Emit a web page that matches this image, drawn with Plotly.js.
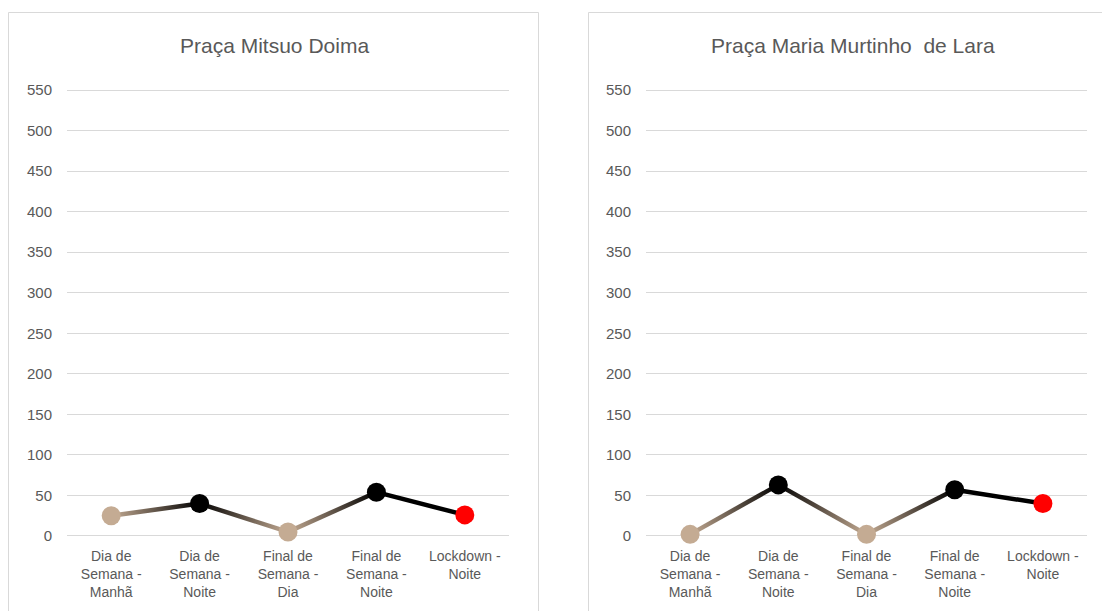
<!DOCTYPE html>
<html>
<head>
<meta charset="utf-8">
<script src="https://cdn.plot.ly/plotly-3.0.1.min.js"></script>
<style>html,body{margin:0;padding:0;background:#fff;}#chart{width:1102px;height:611px;}</style>
</head>
<body>
<div id="chart"></div>
<script>
const categories = ['Dia de<br>Semana -<br>Manhã', 'Dia de<br>Semana -<br>Noite', 'Final de<br>Semana -<br>Dia', 'Final de<br>Semana -<br>Noite', 'Lockdown -<br>Noite'];
const mitsuoValues = [25, 40, 5, 54, 26];
const laraValues = [2, 63, 2, 57, 40];
const yTickValues = [0, 50, 100, 150, 200, 250, 300, 350, 400, 450, 500, 550];
const chartTitles = ['Praça Mitsuo Doima', 'Praça Maria Murtinho  de Lara'];
const pointColors = ['#c4ab93', '#000000', '#c4ab93', '#000000', '#ff0000'];
const lineColors = ['#c4ab93', '#000000', '#c4ab93', '#000000', '#000000'];

const W = 1102, H = 611;
const FONT = '"Liberation Sans", Arial, sans-serif';
const GREY = '#595959';

function buildTraces(values, xa, ya) {
  const traces = [];
  for (let i = 0; i < values.length - 1; i++) {
    traces.push({
      x: [categories[i], categories[i + 1]],
      y: [values[i], values[i + 1]],
      xaxis: xa, yaxis: ya,
      mode: 'lines', type: 'scatter',
      line: {color: lineColors[i + 1], width: 4.5},
      meta: {grad: [lineColors[i], lineColors[i + 1]]},
      hoverinfo: 'skip', showlegend: false, cliponaxis: false
    });
  }
  traces.push({
    x: categories, y: values, xaxis: xa, yaxis: ya,
    mode: 'markers', type: 'scatter',
    marker: {color: pointColors, size: 19},
    showlegend: false, cliponaxis: false
  });
  return traces;
}

const data = buildTraces(mitsuoValues, 'x', 'y').concat(buildTraces(laraValues, 'x2', 'y2'));

// range padded by 2 units (~1.6 px) on each side so the 0 and 550 gridlines are drawn
const yDomain = [(H - 537.6) / H, (H - 88.4) / H];
function yAxis() {
  return {
    domain: yDomain, range: [-2, 552], tickvals: yTickValues,
    showgrid: true, gridcolor: '#d9d9d9', gridwidth: 1,
    zeroline: false, showline: false, ticks: '',
    ticklabelstandoff: 14,
    tickfont: {family: FONT, size: 15, color: GREY}, fixedrange: true
  };
}
function xAxis(d, anchor) {
  return {
    domain: d, anchor: anchor, type: 'category', range: [-0.5, 4.5],
    showgrid: false, zeroline: false, showline: false, ticks: '',
    ticklabelstandoff: 8, tickangle: 0,
    tickfont: {family: FONT, size: 14, color: GREY}, fixedrange: true
  };
}

const layout = {
  width: W, height: H,
  margin: {l: 0, r: 0, t: 0, b: 0},
  paper_bgcolor: '#ffffff', plot_bgcolor: 'rgba(0,0,0,0)',
  font: {family: FONT, color: GREY},
  xaxis: xAxis([67 / W, 509 / W], 'y'),
  yaxis: yAxis(),
  xaxis2: xAxis([646 / W, 1087 / W], 'y2'),
  yaxis2: Object.assign(yAxis(), {anchor: 'x2'}),
  shapes: [
    {type: 'rect', xref: 'paper', yref: 'paper', x0: 8.5 / W, x1: 538.5 / W, y0: -0.05, y1: (H - 12.5) / H,
     line: {color: '#d9d9d9', width: 1}, fillcolor: 'rgba(0,0,0,0)', layer: 'below'},
    {type: 'rect', xref: 'paper', yref: 'paper', x0: 588.5 / W, x1: 1.05, y0: -0.05, y1: (H - 12.5) / H,
     line: {color: '#d9d9d9', width: 1}, fillcolor: 'rgba(0,0,0,0)', layer: 'below'}
  ],
  annotations: [
    {text: chartTitles[0], xref: 'paper', yref: 'paper', x: 274 / W, y: (H - 46) / H, showarrow: false,
     xanchor: 'center', yanchor: 'middle', font: {family: FONT, size: 21, color: GREY}},
    {text: chartTitles[1], xref: 'paper', yref: 'paper', x: 853 / W, y: (H - 46) / H, showarrow: false,
     xanchor: 'center', yanchor: 'middle', font: {family: FONT, size: 21, color: GREY}}
  ]
};

Plotly.newPlot('chart', data, layout, {staticPlot: true, displayModeBar: false}).then(function (gd) {
  const defs = gd.querySelector('svg.main-svg defs');
  const NS = 'http://www.w3.org/2000/svg';
  let n = 0;
  gd.querySelectorAll('g.trace.scatter').forEach(function (g) {
    const cd = g.__data__;
    if (!cd || !cd[0] || !cd[0].trace || !cd[0].trace.meta || !cd[0].trace.meta.grad) return;
    const grad = cd[0].trace.meta.grad;
    const path = g.querySelector('path.js-line');
    if (!path) return;
    const nums = (path.getAttribute('d') || '').match(/-?\d+(\.\d+)?/g);
    if (!nums || nums.length < 4) return;
    const lg = document.createElementNS(NS, 'linearGradient');
    const id = 'segGrad' + (n++);
    lg.setAttribute('id', id);
    lg.setAttribute('gradientUnits', 'userSpaceOnUse');
    lg.setAttribute('x1', nums[0]); lg.setAttribute('y1', nums[1]);
    lg.setAttribute('x2', nums[nums.length - 2]); lg.setAttribute('y2', nums[nums.length - 1]);
    [[0, grad[0]], [1, grad[1]]].forEach(function (s) {
      const st = document.createElementNS(NS, 'stop');
      st.setAttribute('offset', s[0]);
      st.setAttribute('stop-color', s[1]);
      lg.appendChild(st);
    });
    defs.appendChild(lg);
    path.style.setProperty('stroke', 'url(#' + id + ')');
  });
});
</script>
</body>
</html>
